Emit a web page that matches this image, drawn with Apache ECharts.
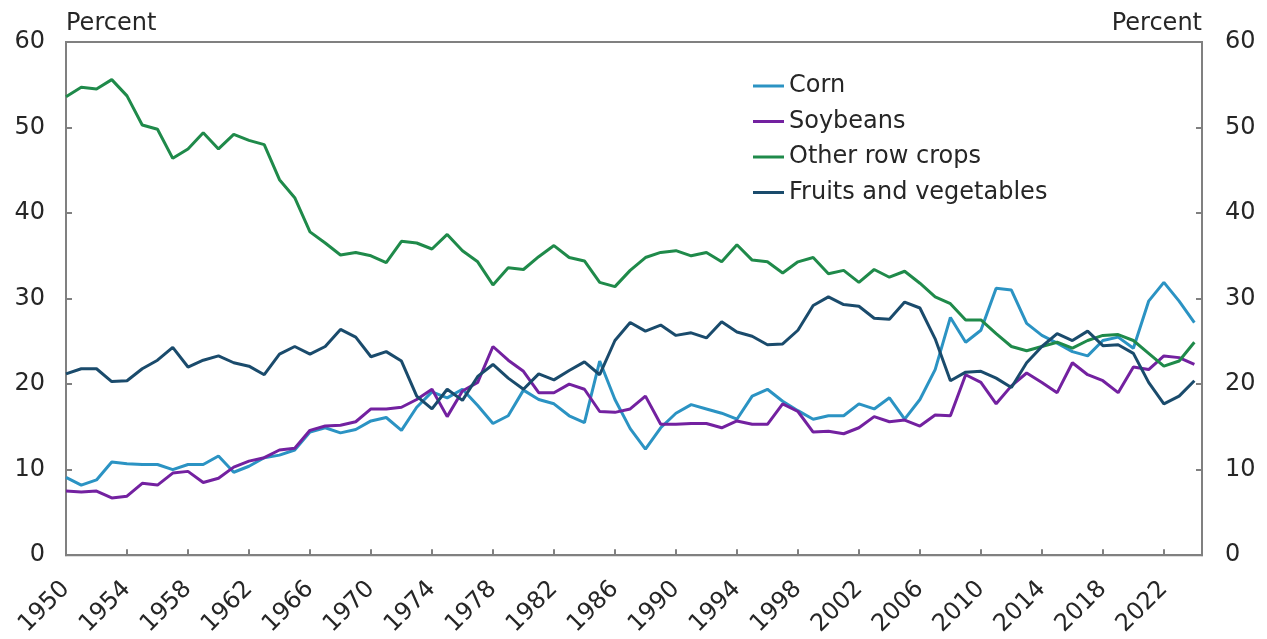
<!DOCTYPE html>
<html>
<head>
<meta charset="utf-8">
<script src="https://cdn.jsdelivr.net/npm/echarts@6/dist/echarts.min.js"></script>
<style>
html,body{margin:0;padding:0;background:#fff;}
#chart{width:1267px;height:639px;}
</style>
</head>
<body>
<div id="chart"></div>
<script>
const years = [];
for (let y = 1950; y <= 2024; y++) years.push(y);

const seriesNames = ['Corn', 'Soybeans', 'Other row crops', 'Fruits and vegetables'];

const corn = [
  9.1, 8.2, 8.8, 10.9, 10.7, 10.6, 10.6, 10.0, 10.6, 10.6,
  11.6, 9.7, 10.4, 11.4, 11.7, 12.3, 14.4, 14.9, 14.3, 14.7,
  15.7, 16.1, 14.6, 17.3, 19.1, 18.4, 19.4, 17.5, 15.4, 16.3,
  19.3, 18.2, 17.7, 16.3, 15.5, 22.7, 18.2, 14.8, 12.4, 14.9,
  16.6, 17.6, 17.1, 16.6, 15.9, 18.6, 19.4, 18.0, 16.9, 15.9,
  16.3, 16.3, 17.7, 17.1, 18.4, 15.9, 18.2, 21.7, 27.8, 24.9,
  26.3, 31.2, 31.0, 27.1, 25.7, 24.8, 23.8, 23.3, 25.1, 25.5,
  24.2, 29.7, 31.9, 29.7, 27.2
];

const soybeans = [
  7.5, 7.4, 7.5, 6.7, 6.9, 8.4, 8.2, 9.6, 9.8, 8.5,
  9.0, 10.3, 11.0, 11.4, 12.3, 12.5, 14.6, 15.1, 15.2, 15.6,
  17.1, 17.1, 17.3, 18.2, 19.4, 16.2, 19.2, 20.2, 24.4, 22.8,
  21.5, 19.0, 19.0, 20.0, 19.4, 16.8, 16.7, 17.1, 18.6, 15.3,
  15.3, 15.4, 15.4, 14.9, 15.7, 15.3, 15.3, 17.7, 16.8, 14.4,
  14.5, 14.2, 14.9, 16.2, 15.6, 15.8, 15.1, 16.4, 16.3, 21.1,
  20.2, 17.7, 19.8, 21.3, 20.2, 19.0, 22.5, 21.1, 20.4, 19.0,
  22.0, 21.7, 23.3, 23.1, 22.3
];

const otherRowCrops = [
  53.6, 54.7, 54.5, 55.6, 53.7, 50.3, 49.8, 46.4, 47.5, 49.4,
  47.5, 49.2, 48.5, 48.0, 43.9, 41.8, 37.8, 36.5, 35.1, 35.4,
  35.0, 34.2, 36.7, 36.5, 35.8, 37.5, 35.6, 34.3, 31.6, 33.6,
  33.4, 34.9, 36.2, 34.8, 34.4, 31.9, 31.4, 33.3, 34.8, 35.4,
  35.6, 35.0, 35.4, 34.3, 36.3, 34.5, 34.3, 33.0, 34.3, 34.8,
  32.9, 33.3, 31.9, 33.4, 32.5, 33.2, 31.8, 30.2, 29.4, 27.5,
  27.5, 25.9, 24.4, 23.9, 24.4, 24.9, 24.2, 25.1, 25.7, 25.8,
  25.1, 23.6, 22.1, 22.7, 24.9
];

const fruitsVeg = [
  21.2, 21.8, 21.8, 20.3, 20.4, 21.8, 22.8, 24.3, 22.0, 22.8,
  23.3, 22.5, 22.1, 21.1, 23.5, 24.4, 23.5, 24.4, 26.4, 25.5,
  23.2, 23.8, 22.7, 18.6, 17.1, 19.4, 18.1, 20.9, 22.3, 20.7,
  19.4, 21.2, 20.5, 21.6, 22.6, 21.1, 25.1, 27.2, 26.2, 26.9,
  25.7, 26.0, 25.4, 27.3, 26.1, 25.6, 24.6, 24.7, 26.3, 29.2,
  30.2, 29.3, 29.1, 27.7, 27.6, 29.6, 28.9, 25.3, 20.4, 21.4,
  21.5, 20.7, 19.6, 22.5, 24.4, 25.9, 25.1, 26.2, 24.5, 24.6,
  23.6, 20.2, 17.7, 18.6, 20.4
];

const colors = ['#2b93c3', '#7321a0', '#1f8a4a', '#1a4b6c'];
const allValues = [corn, soybeans, otherRowCrops, fruitsVeg];

const FONT = 'DejaVu Sans';
const TXT = '#262626';
const AXC = '#808080';

function pairs(vals) { return years.map((y, i) => [y, vals[i]]); }

function yAxisCfg(pos, margin, align) {
  return {
    type: 'value', position: pos, min: 0, max: 60, interval: 10,
    name: 'Percent', nameLocation: 'end', nameGap: 18,
    nameTextStyle: { fontFamily: FONT, fontSize: 24, color: TXT, align: align, verticalAlign: 'middle' },
    axisLine: { show: true, lineStyle: { color: AXC, width: 2 } },
    axisTick: { show: true, inside: true, length: 6, lineStyle: { color: AXC, width: 2 } },
    axisLabel: { fontFamily: FONT, fontSize: 24, color: TXT, margin: margin },
    splitLine: { show: false }
  };
}

const chart = echarts.init(document.getElementById('chart'), null, { renderer: 'canvas' });
chart.setOption({
  animation: false,
  backgroundColor: '#fff',
  color: colors,
  grid: { left: 66, right: 65, top: 42, bottom: 76, show: true, borderColor: AXC, borderWidth: 2 },
  legend: {
    data: seriesNames, orient: 'vertical', left: 753, top: 74, padding: 0,
    icon: 'rect', itemWidth: 31, itemHeight: 3, itemGap: 11.5,
    textStyle: { fontFamily: FONT, fontSize: 24, color: TXT, lineHeight: 24 }
  },
  xAxis: {
    type: 'value', min: 1950, max: 2024.5, interval: 4,
    axisLine: { show: true, lineStyle: { color: AXC, width: 2 } },
    axisTick: { show: true, inside: true, length: 6, lineStyle: { color: AXC, width: 2 } },
    axisLabel: {
      fontFamily: FONT, fontSize: 24, color: TXT, rotate: 45, margin: 30,
      showMaxLabel: false,
      formatter: v => (Number.isInteger(v) && (v - 1950) % 4 === 0) ? String(v) : ''
    },
    splitLine: { show: false }
  },
  yAxis: [yAxisCfg('left', 21, 'left'), yAxisCfg('right', 23, 'right')],
  series: seriesNames.map((n, i) => ({
    name: n, type: 'line', yAxisIndex: 0, data: pairs(allValues[i]),
    symbol: 'none', lineStyle: { width: 3, color: colors[i] },
    itemStyle: { color: colors[i] }, emphasis: { disabled: true }
  }))
});
</script>
</body>
</html>
